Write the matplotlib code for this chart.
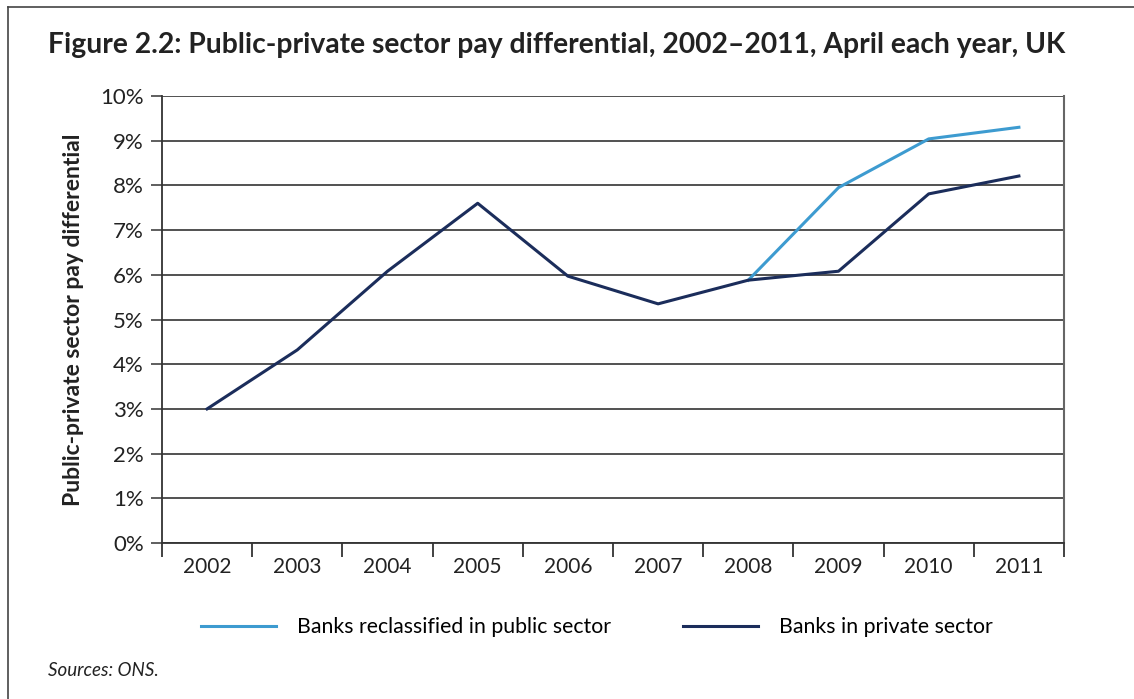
import matplotlib.pyplot as plt
import numpy as np
from matplotlib.lines import Line2D

plt.rcParams['font.family'] = ['Lato', 'DejaVu Sans']

years = ['2002', '2003', '2004', '2005', '2006', '2007', '2008', '2009', '2010', '2011']
# banks in private sector (%)
private = [3.0, 4.32, 6.08, 7.6, 5.97, 5.35, 5.88, 6.08, 7.81, 8.21]
# banks reclassified in public sector (%), diverges from 2008
public = [None, None, None, None, None, None, 5.88, 7.95, 9.04, 9.30]

light = '#3d9bd0'
dark = '#1b2d5b'

fig = plt.figure(figsize=(11.34, 6.99), dpi=100)
ax = fig.add_axes([162/1134, 1 - 543/699, (1064-162)/1134, (543-96)/699])

x = np.arange(len(years))
pub = np.array([np.nan if v is None else v for v in public], dtype=float)
ax.plot(x, pub, color=light, lw=2.2, label='Banks reclassified in public sector')
ax.plot(x, private, color=dark, lw=2.2, label='Banks in private sector')

ax.set_xlim(-0.5, len(years) - 0.5)
ax.set_ylim(0, 10)
ax.set_yticks(np.arange(0, 11, 1))
ax.set_yticklabels([f'{v}%' for v in range(11)])
ax.yaxis.grid(True, color='#222222', lw=1.1)
ax.set_axisbelow(True)

ax.set_xticks(x)
ax.set_xticklabels(years)
ax.set_xticks(np.arange(-0.5, len(years), 1), minor=True)
ax.tick_params(axis='x', which='major', length=0, pad=10, labelsize=15, colors='#222222')
ax.tick_params(axis='x', which='minor', length=10, width=1.3, color='#333333')
ax.tick_params(axis='y', length=8, width=1.1, labelsize=16, pad=5, colors='#333333')
for lab in ax.get_yticklabels() + ax.get_xticklabels():
    lab.set_color('#222222')

for s in ['left', 'bottom']:
    ax.spines[s].set_color('#333333')
    ax.spines[s].set_linewidth(1.3)
ax.spines['top'].set_visible(False)
ax.spines['right'].set_color('#666666')
ax.spines['right'].set_linewidth(1.5)

ax.set_ylabel('Public-private sector pay differential', fontsize=16.5, fontweight='bold',
              color='#222222', labelpad=12)

fig.text(48/1134, 1 - 45/699, 'Figure 2.2: Public-private sector pay differential, 2002\u20132011, April each year, UK',
         fontsize=20.3, fontweight='bold', color='#222222', va='center', ha='left')

fig.legend(loc='center', bbox_to_anchor=(597/1134, 1 - 627/699), ncol=2, frameon=False,
           fontsize=15.3, handlelength=3.5, columnspacing=3.4, handletextpad=1.0)

fig.text(48/1134, 1 - 670/699, 'Sources: ONS.', fontsize=13.5, style='italic',
         color='#222222', va='center', ha='left')

# outer box lines
fig.add_artist(Line2D([8/1134, 1], [1 - 7/699, 1 - 7/699], color='#444444', lw=1.2))
fig.add_artist(Line2D([8/1134, 8/1134], [0, 1 - 7/699], color='#444444', lw=1.2))

fig.savefig('out.png', dpi=100)
